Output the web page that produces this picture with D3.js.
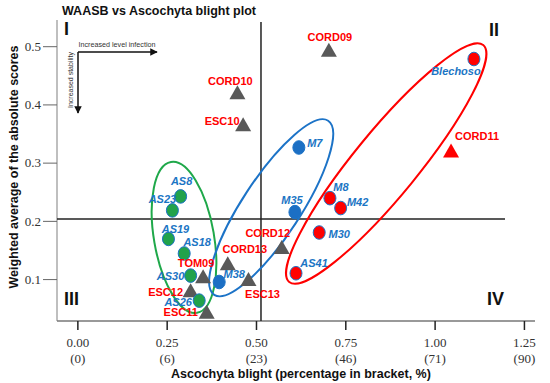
<!DOCTYPE html>
<html>
<head>
<meta charset="utf-8">
<script src="https://cdn.jsdelivr.net/npm/d3@7"></script>
<style>
body{margin:0;background:#fff;}
svg text{font-family:Arial,"Liberation Sans",sans-serif;}
.tick text{font-family:"Liberation Serif","Times New Roman",serif;font-size:13px;fill:#333;}
</style>
</head>
<body>
<div class="chart_div"></div>
<script>
// genotypes and their scores
var genotypes = ["CORD09","Blechoso","CORD10","ESC10","CORD11","M7","AS8","AS23","AS19","AS18","M35","M8",
                 "M42","M30","CORD12","AS41","CORD13","TOM09","AS30","M38","ESC13","ESC12","AS26","ESC11"];
var blight = [0.704,1.110,0.448,0.464,1.046,0.620,0.289,0.266,0.255,0.299,0.609,0.707,
              0.737,0.677,0.572,0.612,0.421,0.352,0.317,0.397,0.479,0.317,0.341,0.362];
var waasb = [0.494,0.478,0.421,0.366,0.321,0.326,0.242,0.218,0.169,0.144,0.215,0.239,
             0.222,0.180,0.155,0.110,0.127,0.105,0.106,0.095,0.100,0.081,0.063,0.044];
var kind = ["check","red","check","check","checkRed","blue","green","green","green","green","blue","red",
            "red","red","check","red","check","check","green","blue","check","check","green","check"];

var meanBlight = 0.514;
var meanWaasb = 0.203;

var xTicks = [0,0.25,0.5,0.75,1.0,1.25];
var xPct = ["(0)","(6)","(23)","(46)","(71)","(90)"];
var yTicks = [0.1,0.2,0.3,0.4,0.5];

// clusters: ends of the long axis, in data units
var clusterNames = ["green","blue","red"];
var clusterStart = [[0.262,0.301],[0.383,0.073],[0.593,0.095]];
var clusterEnd = [[0.335,0.042],[0.702,0.372],[1.136,0.502]];

// ---- layout / styles ----
var halfWidth = {green:30, blue:29, red:32};
var ringColor = {green:"#1fa84a", blue:"#1c73c7", red:"#ff0000"};
var dotColor = {green:"#22a24b", blue:"#1c6fc4", red:"#ff0000", check:"#595959", checkRed:"#ff0000"};
var labelPos = {
	CORD09:[1,-13], Blechoso:[-18,12], CORD10:[-7,-11], ESC10:[-21,-3], CORD11:[26,-14],
	M7:[16,-5], AS8:[1,-15], AS23:[-10,-11], AS19:[7,-10], AS18:[13,-11], M35:[-3,-12],
	M8:[11,-11], M42:[17,-6], M30:[20,1], CORD12:[-14,-14], AS41:[18,-10], CORD13:[17,-14],
	TOM09:[-7,-13], AS30:[-20,0], M38:[15,-8], ESC13:[14,15], ESC12:[-25,2], AS26:[-21,1], ESC11:[-26,0]
};

var svg = d3.select(".chart_div").append("svg")
			.attr("width",550)
			.attr("height",383);

var x = d3.scaleLinear().domain([-0.057,1.281]).range([57,535]);
var y = d3.scaleLinear().domain([0.028,0.545]).range([321,20]);

// frame
svg.append("line").attr("x1",57).attr("x2",57).attr("y1",20).attr("y2",321)
	.attr("stroke","#aaa").attr("stroke-width",1.5);
svg.append("line").attr("x1",57).attr("x2",535).attr("y1",321).attr("y2",321)
	.attr("stroke","#777").attr("stroke-width",1.5);

// axes
var gx = svg.append("g").attr("transform","translate(0,321)")
	.call(d3.axisBottom(x).tickValues(xTicks).tickSize(9).tickPadding(7.5).tickFormat(d3.format(".2f")));
gx.select(".domain").remove();
gx.selectAll(".tick line").attr("stroke","#222").attr("stroke-width",1.5);
gx.selectAll(".tick text").each(function(d,i){
	d3.select(this).append("tspan").attr("x",0).attr("dy","1.25em").text(xPct[i]);
});

var gy = svg.append("g").attr("transform","translate(57,0)")
	.call(d3.axisLeft(y).tickValues(yTicks).tickSize(14).tickPadding(2).tickFormat(d3.format(".1f")));
gy.select(".domain").remove();
gy.selectAll(".tick line").attr("stroke","#666").attr("stroke-width",1);

// mean lines
svg.append("line").attr("x1",x(meanBlight)).attr("x2",x(meanBlight)).attr("y1",22).attr("y2",321)
	.attr("stroke","#222").attr("stroke-width",1.5);
svg.append("line").attr("x1",57).attr("x2",505).attr("y1",y(meanWaasb)).attr("y2",y(meanWaasb))
	.attr("stroke","#222").attr("stroke-width",1.5);

// titles
svg.append("text").attr("x",62).attr("y",15).text("WAASB vs Ascochyta blight plot")
	.style("font-weight","bold").style("font-size","12.5px").attr("fill","#111");
svg.append("text").attr("x",301).attr("y",378).attr("text-anchor","middle")
	.text("Ascochyta blight (percentage in bracket, %)")
	.style("font-weight","bold").style("font-size","12.5px").attr("fill","#111");
svg.append("text").attr("transform","translate(18,167) rotate(-90)").attr("text-anchor","middle")
	.text("Weighted average of the absolute scores")
	.style("font-weight","bold").style("font-size","12.5px").attr("fill","#111");

// quadrant numbers
var quads = [["I",64,35],["II",489,36],["III",64,305],["IV",487,305]];
svg.selectAll(".quad").data(quads).enter().append("text")
	.attr("class","quad")
	.attr("x",function(d){ return d[1]; })
	.attr("y",function(d){ return d[2]; })
	.text(function(d){ return d[0]; })
	.style("font-weight","bold").style("font-size","18px").attr("fill","#111");

// direction arrows
var defs = svg.append("defs");
defs.append("marker").attr("id","arr").attr("viewBox","0 0 10 10").attr("refX",9).attr("refY",5)
	.attr("markerWidth",5).attr("markerHeight",5).attr("orient","auto")
	.append("path").attr("d","M0,0 L10,5 L0,10 z").attr("fill","#111");
svg.append("line").attr("x1",78).attr("y1",52).attr("x2",157).attr("y2",52)
	.attr("stroke","#111").attr("stroke-width",1.5).attr("marker-end","url(#arr)");
svg.append("line").attr("x1",78).attr("y1",52).attr("x2",78).attr("y2",113)
	.attr("stroke","#111").attr("stroke-width",1.5).attr("marker-end","url(#arr)");
svg.append("text").attr("x",117).attr("y",46.5).attr("text-anchor","middle")
	.text("Increased level infection").style("font-size","7.2px").attr("fill","#333");
svg.append("text").attr("transform","translate(73,80) rotate(-90)").attr("text-anchor","middle")
	.text("Increased stability").style("font-size","7px").attr("fill","#333");

// cluster rings
clusterNames.forEach(function(c,i){
	var x1 = x(clusterStart[i][0]), y1 = y(clusterStart[i][1]);
	var x2 = x(clusterEnd[i][0]), y2 = y(clusterEnd[i][1]);
	var len = Math.sqrt((x2-x1)*(x2-x1)+(y2-y1)*(y2-y1));
	var ang = Math.atan2(y2-y1,x2-x1)*180/Math.PI;
	svg.append("ellipse")
		.attr("transform","translate("+((x1+x2)/2)+","+((y1+y2)/2)+") rotate("+ang+")")
		.attr("rx",len/2).attr("ry",halfWidth[c])
		.attr("fill","none").attr("stroke",ringColor[c]).attr("stroke-width",2);
});

// points
var pts = genotypes.map(function(g,i){
	return {name:g, bx:blight[i], wy:waasb[i], kind:kind[i]};
});
var isCheck = function(d){ return d.kind=="check" || d.kind=="checkRed"; };

svg.selectAll(".tri").data(pts.filter(isCheck)).enter().append("path")
	.attr("class","tri")
	.attr("d",function(d){
		var cx = x(d.bx), cy = y(d.wy);
		return "M"+cx+","+(cy-7)+"L"+(cx+8)+","+(cy+7)+"L"+(cx-8)+","+(cy+7)+"Z";
	})
	.attr("fill",function(d){ return dotColor[d.kind]; });

svg.selectAll(".dot").data(pts.filter(function(d){ return !isCheck(d); })).enter().append("ellipse")
	.attr("class","dot")
	.attr("cx",function(d){ return x(d.bx); })
	.attr("cy",function(d){ return y(d.wy); })
	.attr("rx",6).attr("ry",6.8)
	.attr("fill",function(d){ return dotColor[d.kind]; })
	.attr("stroke","#1c73c7").attr("stroke-width",1);

svg.selectAll(".lbl").data(pts).enter().append("text")
	.attr("class","lbl")
	.attr("x",function(d){ return x(d.bx)+labelPos[d.name][0]; })
	.attr("y",function(d){ return y(d.wy)+labelPos[d.name][1]; })
	.attr("text-anchor","middle")
	.attr("dominant-baseline","central")
	.text(function(d){ return d.name; })
	.style("font-size","11px").style("font-weight","bold")
	.style("font-style",function(d){ return isCheck(d) ? "normal" : "italic"; })
	.attr("fill",function(d){ return isCheck(d) ? "#ff0000" : "#1b75c4"; });
</script>
</body>
</html>
